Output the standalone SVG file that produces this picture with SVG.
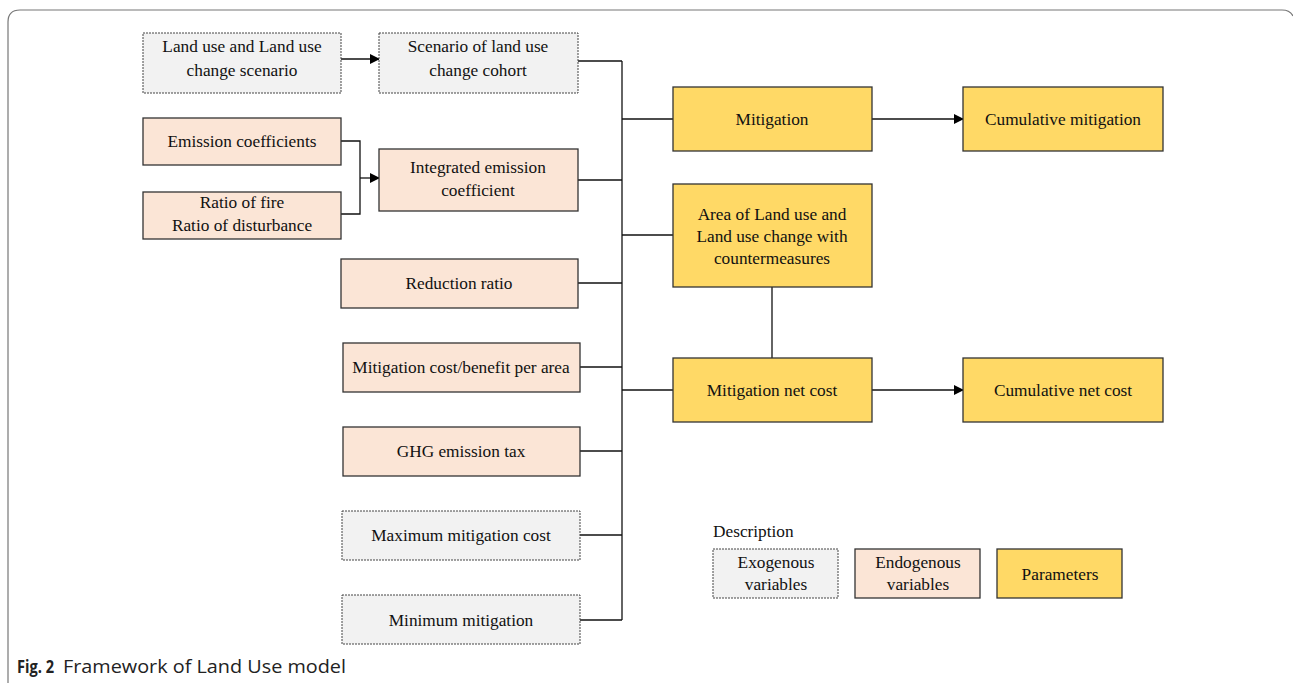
<svg xmlns="http://www.w3.org/2000/svg" width="1293" height="683" viewBox="0 0 1293 683">
<style>
.exo{fill:#f2f2f2;stroke:#444;stroke-width:1;stroke-dasharray:2 1}
.endo{fill:#fbe5d6;stroke:#333;stroke-width:1.3}
.par{fill:#ffd966;stroke:#333;stroke-width:1.3}
text{font-family:"Liberation Serif","Times New Roman",serif;font-size:17.3px;fill:#111;text-anchor:middle}
.ln{fill:none;stroke:#111;stroke-width:1.3}
.cap{font-family:"Open Sans","Noto Sans",sans-serif;font-size:18px;text-anchor:start;fill:#222}
</style>
<defs>
<marker id="ah" markerWidth="10" markerHeight="10" refX="9" refY="5" orient="auto" markerUnits="userSpaceOnUse">
<path d="M0,0 L10,5 L0,10 Z" fill="#000"/>
</marker>
</defs>
<rect width="1293" height="683" fill="#fff"/>
<path d="M8,683 L8,22 Q8,10 20,10 L1282,10 Q1290,10 1293,16" fill="none" stroke="#777" stroke-width="1.2"/>

<g id="connectors">
<line class="ln" x1="341" y1="59" x2="379" y2="59" marker-end="url(#ah)"/>
<polyline class="ln" points="578,61 622,61"/>
<line class="ln" x1="622" y1="61" x2="622" y2="620" stroke-width="2"/>
<polyline class="ln" points="341,141 360,141 360,214 341,214"/>
<line class="ln" x1="360" y1="178" x2="379" y2="178" marker-end="url(#ah)"/>
<line class="ln" x1="578" y1="180" x2="622" y2="180"/>
<line class="ln" x1="578" y1="283" x2="622" y2="283"/>
<line class="ln" x1="580" y1="367" x2="622" y2="367"/>
<line class="ln" x1="580" y1="451" x2="622" y2="451" stroke-width="2"/>
<line class="ln" x1="580" y1="535" x2="622" y2="535"/>
<line class="ln" x1="580" y1="620" x2="622" y2="620" stroke-width="2"/>
<line class="ln" x1="622" y1="119" x2="673" y2="119"/>
<line class="ln" x1="622" y1="235" x2="673" y2="235"/>
<line class="ln" x1="622" y1="390" x2="673" y2="390"/>
<line class="ln" x1="872" y1="119" x2="963" y2="119" marker-end="url(#ah)"/>
<line class="ln" x1="872" y1="390" x2="963" y2="390" marker-end="url(#ah)"/>
<line class="ln" x1="772" y1="287" x2="772" y2="358"/>
</g>

<g id="n-lulc-scenario"><rect class="exo" x="143" y="33" width="198" height="60"/><text x="242" y="52">Land use and Land use</text><text x="242" y="76">change scenario</text></g>
<g id="n-cohort"><rect class="exo" x="379" y="33" width="199" height="60"/><text x="478" y="52">Scenario of land use</text><text x="478" y="76">change cohort</text></g>
<g id="n-emission-coef"><rect class="endo" x="143" y="118" width="198" height="47"/><text x="242" y="147">Emission coefficients</text></g>
<g id="n-ratio"><rect class="endo" x="143" y="192" width="198" height="47"/><text x="242" y="208">Ratio of fire</text><text x="242" y="231">Ratio of disturbance</text></g>
<g id="n-integrated"><rect class="endo" x="379" y="149" width="199" height="62"/><text x="478" y="173">Integrated emission</text><text x="478" y="196">coefficient</text></g>
<g id="n-reduction"><rect class="endo" x="341" y="259" width="237" height="49"/><text x="459" y="289">Reduction ratio</text></g>
<g id="n-costbenefit"><rect class="endo" x="343" y="343" width="237" height="49"/><text x="461" y="373">Mitigation cost/benefit per area</text></g>
<g id="n-ghgtax"><rect class="endo" x="343" y="427" width="237" height="49"/><text x="461" y="457">GHG emission tax</text></g>
<g id="n-maxcost"><rect class="exo" x="342" y="511" width="238" height="49"/><text x="461" y="541">Maximum mitigation cost</text></g>
<g id="n-minmit"><rect class="exo" x="342" y="595" width="238" height="49"/><text x="461" y="626">Minimum mitigation</text></g>

<g id="n-mitigation"><rect class="par" x="673" y="87" width="199" height="64"/><text x="772" y="125">Mitigation</text></g>
<g id="n-cummit"><rect class="par" x="963" y="87" width="200" height="64"/><text x="1063" y="125">Cumulative mitigation</text></g>
<g id="n-area"><rect class="par" x="673" y="184" width="199" height="103"/><text x="772" y="220">Area of Land use and</text><text x="772" y="242">Land use change with</text><text x="772" y="264">countermeasures</text></g>
<g id="n-netcost"><rect class="par" x="673" y="358" width="199" height="64"/><text x="772" y="396">Mitigation net cost</text></g>
<g id="n-cumnet"><rect class="par" x="963" y="358" width="200" height="64"/><text x="1063" y="396">Cumulative net cost</text></g>

<g id="legend">
<text x="713" y="537" style="text-anchor:start">Description</text>
<rect class="exo" x="713" y="549" width="125" height="49"/><text x="776" y="568">Exogenous</text><text x="776" y="590">variables</text>
<rect class="endo" x="855" y="549" width="125" height="49"/><text x="918" y="568">Endogenous</text><text x="918" y="590">variables</text>
<rect class="par" x="997" y="549" width="125" height="49"/><text x="1060" y="580">Parameters</text>
</g>

<text class="cap" x="17" y="673" font-weight="bold" textLength="37" lengthAdjust="spacingAndGlyphs">Fig. 2</text>
<text class="cap" x="63" y="673" textLength="283" lengthAdjust="spacingAndGlyphs">Framework of Land Use model</text>
</svg>
